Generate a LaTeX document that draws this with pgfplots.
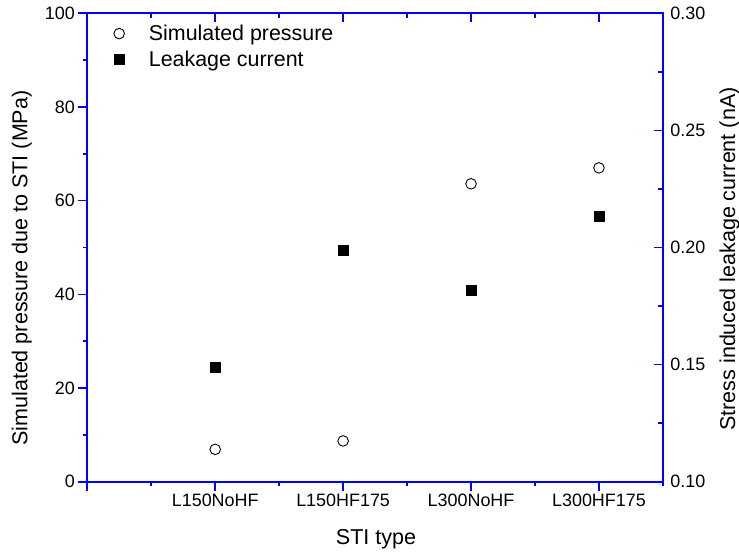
\documentclass[border=0pt]{standalone}
\usepackage{fontspec}
\setmainfont{Liberation Sans}
\usepackage{pgfplots}
\pgfplotsset{compat=1.18}
\definecolor{axblue}{RGB}{0,0,255}

\pgfplotstableread{
x pressure
1 6.9
2 8.7
3 63.6
4 67.0
}\pressuredata

\pgfplotstableread{
x current
1 0.1488
2 0.1989
3 0.1819
4 0.2132
}\currentdata

\begin{document}
\begin{tikzpicture}
\path[use as bounding box] (-87.3bp,-71.3bp) rectangle (651.7bp,481.7bp);
\pgfplotsset{
  common/.style={
    scale only axis, width=575.6bp, height=468.4bp,
    xmin=0, xmax=4.5,
    tick style={axblue, line width=1.6bp},
    tick label style={font=\fontsize{18}{20}\selectfont},
    label style={font=\fontsize{21.6}{24}\selectfont},
    /pgf/number format/assume math mode=true,
    major tick length=9bp, minor tick length=4.5bp,
    clip=false,
  },
}
\begin{axis}[common,
  axis line style={draw=axblue, line width=1.6bp},
  ymin=0, ymax=100,
  xtick={0,1,2,3,4}, xticklabels={{},L150NoHF,L150HF175,L300NoHF,L300HF175},
  minor xtick={0.5,1.5,2.5,3.5,4.5},
  ytick={0,20,40,60,80,100}, minor ytick={10,30,50,70,90},
  xtick pos=left, ytick pos=left, tick align=outside,
  xlabel={STI type}, ylabel={Simulated pressure due to STI (MPa)},
  xlabel style={at={(axis description cs:0.5016,-0.1351)}, anchor=base},
  ylabel style={at={(axis description cs:-0.1039,0.456)}, anchor=base},
]
\addplot[only marks, mark=o, mark size=5.3bp, mark options={black, line width=0.9bp}] table[x=x, y=pressure] {\pressuredata};
\end{axis}
\begin{axis}[common,
  axis line style={draw=none},
  ymin=0.10, ymax=0.30,
  xtick={1,2,3,4}, xticklabels={},
  minor xtick={0.5,1.5,2.5,3.5,4.5},
  ytick={0.10,0.15,0.20,0.25,0.30}, minor ytick={0.125,0.175,0.225,0.275},
  xtick pos=right, ytick pos=right, yticklabel pos=right, tick align=inside,
  yticklabel style={xshift=4bp, /pgf/number format/fixed, /pgf/number format/fixed zerofill, /pgf/number format/precision=2},
  ylabel={Stress induced leakage current (nA)},
  ylabel style={at={(axis description cs:1.1253,0.4754)}, anchor=base},
  legend cell align=left,
  legend image code/.code={\path (0bp,0bp) (37.5bp,0bp);\draw[mark repeat=2,mark phase=2,#1] plot coordinates {(0bp,0bp)(9bp,0bp)(37.5bp,0bp)};},
  legend style={at={(axis description cs:0.0394,0.977)}, anchor=north west, draw=none, fill=none,
    inner sep=0pt, outer sep=0pt, row sep=7bp, font=\fontsize{21.5}{24}\selectfont, nodes={inner sep=1bp}},
]
\addlegendimage{only marks, mark=o, mark size=5.3bp, mark options={black, line width=0.9bp}}
\addlegendentry{Simulated pressure}
\addplot[only marks, mark=square*, mark size=5bp, mark options={black}] table[x=x, y=current] {\currentdata};
\addlegendentry{Leakage current}
\end{axis}
\end{tikzpicture}
\end{document}
